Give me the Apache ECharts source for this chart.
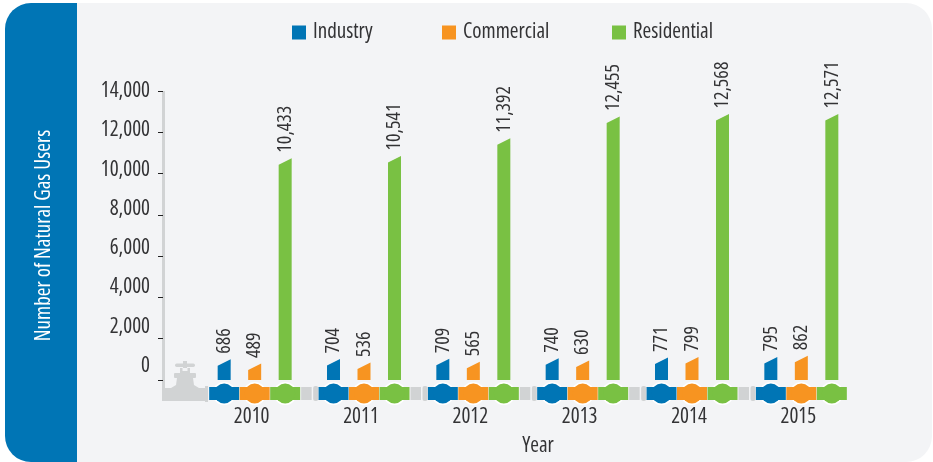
<!DOCTYPE html>
<html><head><meta charset="utf-8">
<style>html,body{margin:0;padding:0;background:#fff}#c{width:933px;height:462px}</style>
<script src="https://cdn.jsdelivr.net/npm/echarts@6/dist/echarts.min.js"></script>
</head><body><div id="c"></div>
<script>
const years = ['2010','2011','2012','2013','2014','2015'];
const industry = [686,704,709,740,771,795];
const commercial = [489,536,565,630,799,862];
const residential = [10433,10541,11392,12455,12568,12571];
const yTicks = [0,2000,4000,6000,8000,10000,12000,14000];
const FONT = '"Open Sans"';
const TXT = {fontFamily:FONT, fontStyle:'condensed'};
const INK = '#333335', GRAY = '#d1d3d4';

function makeSeries(name, values, color, shift, isLast){
  return {
    name, type:'custom', itemStyle:{color},
    data: years.map((y,i)=>[y,values[i]]),
    encode:{x:0,y:1},
    renderItem(params, api){
      const p = api.coord([api.value(0), api.value(1)]);
      const base = api.coord([api.value(0), 0]);
      const cx = base[0]+shift, w = 6.5, pipeY = base[1]+7, pipeH = 13;
      const kids = [
        {type:'polygon', shape:{points:[[cx-w,base[1]],[cx-w,p[1]],[cx+w,p[1]-6.5],[cx+w,base[1]]]}, style:{fill:color}},
        {type:'circle', shape:{cx,cy:pipeY+6.5,r:11.5}, style:{fill:'#fff'}},
        {type:'rect', shape:{x:cx-15,y:pipeY,width:30,height:pipeH}, style:{fill:color}},
        {type:'circle', shape:{cx,cy:pipeY+6.5,r:10}, style:{fill:color}},
        {type:'text', x:cx, y:p[1]-12, rotation:Math.PI/2,
         style:{text:values[params.dataIndex].toLocaleString('en-US'), x:0, y:0, fill:INK, font:'condensed 20px '+FONT, align:'left', verticalAlign:'middle'}}
      ];
      if(isLast && params.dataIndex < years.length-1){
        kids.push({type:'rect', shape:{x:cx+16,y:pipeY,width:10.5,height:pipeH}, style:{fill:GRAY}});
        kids.push({type:'rect', shape:{x:cx+28,y:pipeY-1,width:5,height:pipeH+2,r:2}, style:{fill:GRAY}});
      }
      return {type:'group', children:kids};
    }
  };
}
const legendAt = (name,left)=>({
  left, top:22, padding:0, icon:'rect', itemWidth:14, itemHeight:14,
  textStyle:{...TXT, fontSize:21, color:INK, padding:[0,0,0,2]},
  data:[name]
});

const chart = echarts.init(document.getElementById('c'), null, {renderer:'canvas'});
chart.setOption({
  animation:false,
  backgroundColor:'#fff',
  graphic:{elements:[
    {type:'rect', z:-10, shape:{x:5,y:3,width:927,height:459,r:26}, style:{fill:'#f3f4f6'}},
    {type:'rect', z:-9, shape:{x:5,y:3,width:72,height:459,r:[26,0,0,26]}, style:{fill:'#0075b5'}},
    {type:'rect', z:-5, shape:{x:162,y:91,width:3,height:310}, style:{fill:GRAY}},
    {type:'rect', z:-5, shape:{x:162,y:388,width:44,height:13}, style:{fill:GRAY}},
    {type:'rect', z:-5, shape:{x:205,y:386,width:3,height:16}, style:{fill:GRAY}},
    {type:'polygon', z:-5, shape:{points:[[177,378],[193,378],[194,385],[199,388],[171,388],[176,385]]}, style:{fill:GRAY}},
    {type:'rect', z:-5, shape:{x:174,y:373,width:22,height:5,r:1}, style:{fill:GRAY}},
    {type:'rect', z:-5, shape:{x:180,y:368,width:2.5,height:5}, style:{fill:GRAY}},
    {type:'rect', z:-5, shape:{x:187.5,y:368,width:2.5,height:5}, style:{fill:GRAY}},
    {type:'rect', z:-5, shape:{x:180,y:371,width:10,height:2}, style:{fill:GRAY}},
    {type:'rect', z:-5, shape:{x:183,y:361,width:4,height:7}, style:{fill:GRAY}},
    {type:'rect', z:-5, shape:{x:175,y:363.5,width:20,height:3.5,r:1.7}, style:{fill:GRAY}}
  ]},
  legend:[legendAt('Industry',292), legendAt('Commercial',442), legendAt('Residential',612)],
  grid:{left:200, right:77, top:91, bottom:81, containLabel:false},
  xAxis:{
    type:'category', data:years,
    axisLine:{show:false}, axisTick:{show:false},
    axisLabel:{...TXT, fontSize:21, color:INK, margin:27, padding:[0,6,0,0]},
    name:'Year', nameLocation:'middle', nameGap:56,
    nameTextStyle:{...TXT, fontSize:21, color:INK, padding:[0,0,0,20]}
  },
  yAxis:[
    {
      type:'value', min:0, max:14000, interval:2000, offset:37,
      splitLine:{show:false},
      axisLine:{show:false},
      axisTick:{show:true, length:5, lineStyle:{color:'#222', width:1}},
      axisLabel:{show:false},
      name:'Number of Natural Gas Users', nameLocation:'middle', nameGap:102,
      nameTextStyle:{...TXT, fontSize:21, color:'#fff', padding:[0,0,6,0]}
    },
    {
      type:'value', position:'left', min:-709, max:14000, offset:37,
      splitLine:{show:false}, axisLine:{show:false}, axisTick:{show:false},
      axisLabel:{customValues:yTicks, ...TXT, fontSize:21, color:INK, margin:13,
        formatter:v=>Number(v).toLocaleString('en-US')}
    }
  ],
  series:[
    makeSeries('Industry', industry, '#0075b5', -30.5, false),
    makeSeries('Commercial', commercial, '#f79421', 0, false),
    makeSeries('Residential', residential, '#79c143', 30.5, true)
  ]
});
</script></body></html>
